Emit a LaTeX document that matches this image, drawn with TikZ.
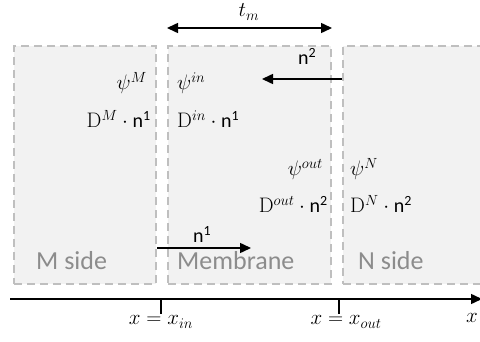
\RequirePackage{fix-cm}
\documentclass[tikz,border=0pt]{standalone}
\usepackage{amsmath}
\usepackage[no-math]{fontspec}
\setmainfont{Carlito}
\usetikzlibrary{arrows.meta}
\definecolor{boxfill}{RGB}{242,242,242}
\definecolor{boxline}{RGB}{191,191,191}
\definecolor{labgray}{RGB}{140,140,140}
\tikzset{
  region/.style={draw=boxline, fill=boxfill, line width=2pt, dash pattern=on 8pt off 5pt, inner sep=0pt},
  sidelabel/.style={text=labgray, font=\fontsize{26}{30}\selectfont, inner sep=0pt},
  mlabel/.style={font=\fontsize{21}{25}\selectfont, inner sep=0pt},
  nlabel/.style={font=\fontsize{20}{24}\selectfont, inner sep=0pt},
  flow/.style={line width=1.5pt, -{Triangle[length=11pt,width=10pt]}},
  axisline/.style={line width=1.5pt},
}
\newcommand{\nn}[1]{\text{\fontsize{20}{24}\selectfont n}^{\text{\fontsize{14}{16}\selectfont #1}}}
\begin{document}
\begin{tikzpicture}[x=1pt,y=-1pt]
\useasboundingbox (0,0) rectangle (480,342);
% regions
\node[region, minimum width=142pt, minimum height=238pt] (M) at (85,165) {};
\node[region, minimum width=163pt, minimum height=238pt] (Mem) at (249.5,165) {};
\node[region, minimum width=160pt, minimum height=238pt] (N) at (423,165) {};
% side labels
\node[sidelabel, anchor=base west] (lm) at (36,270) {M side};
\node[sidelabel, anchor=base west] (lmem) at (177,270) {Membrane};
\node[sidelabel, anchor=base west] (ln) at (358,270) {N side};
% quantities
\node[mlabel, anchor=base east] (psiM) at (147,90) {$\psi^{M}$};
\node[mlabel, anchor=base east] (DM) at (151,128) {$\mathrm{D}^{M}\cdot\nn{1}$};
\node[mlabel, anchor=base west] (psiin) at (177,90) {$\psi^{in}$};
\node[mlabel, anchor=base west] (Din) at (177,128) {$\mathrm{D}^{in}\cdot\nn{1}$};
\node[mlabel, anchor=base east] (psiout) at (323,176) {$\psi^{out}$};
\node[mlabel, anchor=base east] (Dout) at (328,213) {$\mathrm{D}^{out}\cdot\nn{2}$};
\node[mlabel, anchor=base west] (psiN) at (350,176) {$\psi^{N}$};
\node[mlabel, anchor=base west] (DN) at (350,213) {$\mathrm{D}^{N}\cdot\nn{2}$};
% thickness arrow
\coordinate (tl) at (Mem.west |- 0,28);
\coordinate (tr) at (Mem.east |- 0,28);
\draw[line width=1.5pt, {Triangle[length=11pt,width=10pt]}-{Triangle[length=11pt,width=10pt]}] (tl) -- (tr);
\node[mlabel, anchor=base] (tm) at (249,17) {$t_m$};
% flux arrows
\coordinate (n2tip) at (262,79);
\draw[flow] (N.west |- n2tip) -- (n2tip);
\node[nlabel, anchor=base west] (n2lab) at (298,65) {n$^{\text{\fontsize{14}{16}\selectfont 2}}$};
\coordinate (n1tip) at (251,248);
\draw[flow] (M.east |- n1tip) -- (n1tip);
\node[nlabel, anchor=base west] (n1lab) at (193,243) {n$^{\text{\fontsize{14}{16}\selectfont 1}}$};
% axis
\coordinate (a0) at (10,299);
\coordinate (a1) at (482,299);
\draw[flow] (a0) -- (a1);
\coordinate (xin) at (161,299);
\coordinate (xout) at (339,299);
\draw[axisline] (xin) -- ++(0,15) coordinate (xinb);
\draw[axisline] (xout) -- ++(0,15) coordinate (xoutb);
\node[mlabel, anchor=base] (lxin) at (161,325) {$x = x_{in}$};
\node[mlabel, anchor=base] (lxout) at (346,325) {$x = x_{out}$};
\node[mlabel, anchor=base west] (lx) at (466,323) {$x$};
\end{tikzpicture}
\end{document}
